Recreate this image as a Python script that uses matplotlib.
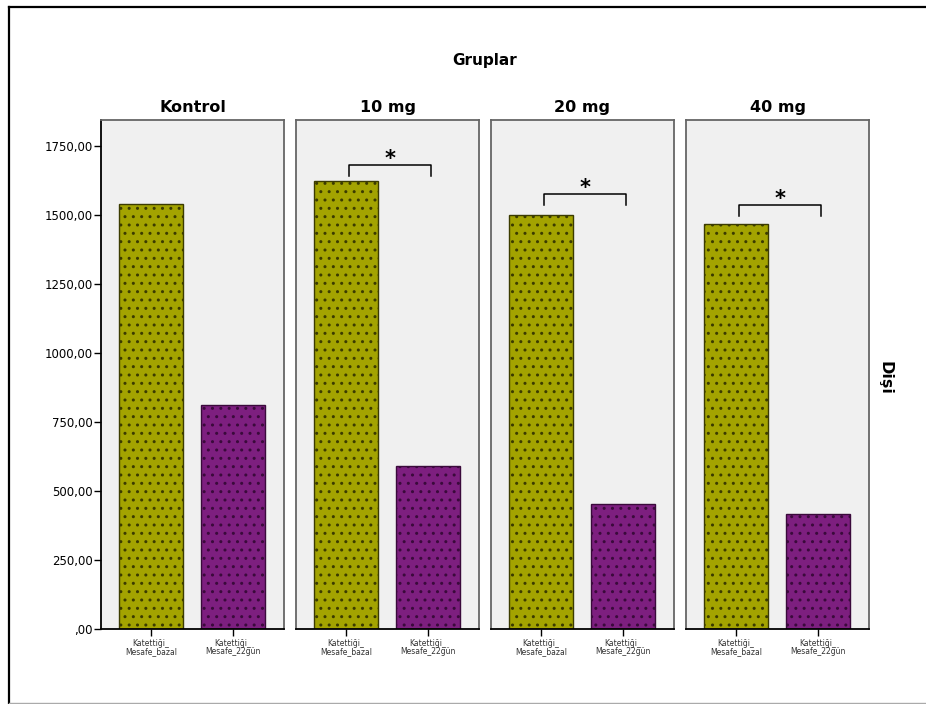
import matplotlib
matplotlib.use("Agg")
import matplotlib.pyplot as plt
from matplotlib.lines import Line2D

# Veriler
gruplar = ["Kontrol", "10 mg", "20 mg", "40 mg"]
kategoriler = ["Katettiği_\nMesafe_bazal", "Katettiği_\nMesafe_22gün"]
bazal = [1540, 1623, 1500, 1467]
gun22 = [811, 590, 453, 417]
anlamli = [False, True, True, True]
braket_y = [0, 1681, 1576, 1536]
yticks = [0, 250, 500, 750, 1000, 1250, 1500, 1750]
ytick_labels = [",00", "250,00", "500,00", "750,00", "1000,00", "1250,00", "1500,00", "1750,00"]

renkler = ["#a3a300", "#7d1f7f"]
kenar = ["#3b3b00", "#3a0a3b"]

fig = plt.figure(figsize=(9.26, 7.04), dpi=100)
W, H = 926, 704

# dis cerceve
fig.add_artist(Line2D([9 / W, 9 / W], [1 - 7 / H, 1 - 703 / H], color="black", lw=1.6))
fig.add_artist(Line2D([9 / W, 1], [1 - 7 / H, 1 - 7 / H], color="black", lw=1.6))
fig.add_artist(Line2D([9 / W, 1], [1 - 703 / H, 1 - 703 / H], color="#aaaaaa", lw=1))

sol = [101, 296, 491, 686]
for i, g in enumerate(gruplar):
    ax = fig.add_axes([sol[i] / W, 75 / H, 183 / W, 509 / H])
    ax.set_facecolor("#f0f0f0")
    vals = [bazal[i], gun22[i]]
    for j in range(2):
        ax.bar(j, vals[j], width=0.78, color=renkler[j], edgecolor=kenar[j],
               hatch="..", linewidth=1.0)
    ax.set_xlim(-0.61, 1.62)
    ax.set_ylim(0, 1844)
    ax.set_xticks([0, 1])
    ax.set_xticklabels(kategoriler, fontsize=5.5, linespacing=0.95, color="#333333")
    ax.tick_params(axis="x", length=5, width=1, pad=2)
    for s in ax.spines.values():
        s.set_color("#666666")
        s.set_linewidth(1.3)
    ax.spines["bottom"].set_color("black")
    if i == 0:
        ax.set_yticks(yticks)
        ax.set_yticklabels(ytick_labels, fontsize=8.5)
        ax.tick_params(axis="y", length=5, width=1, pad=1)
        ax.spines["left"].set_color("black")
    else:
        ax.set_yticks([])
    ax.set_title(g, fontsize=11.5, fontweight="bold", pad=6)
    if anlamli[i]:
        y = braket_y[i]
        ax.plot([0.04, 0.04, 1.04, 1.04], [y - 40, y, y, y - 40], color="black", lw=1.1)
        ax.text(0.54, y, "*", ha="center", va="baseline", fontsize=15, fontweight="bold")

fig.text(485 / W, 1 - 60 / H, "Gruplar", ha="center", va="center", fontsize=11, fontweight="bold")
fig.text(885 / W, 1 - 378 / H, "Dişi", ha="center", va="center", fontsize=11.5,
         fontweight="bold", rotation=270)

fig.savefig("out.png", dpi=100)
